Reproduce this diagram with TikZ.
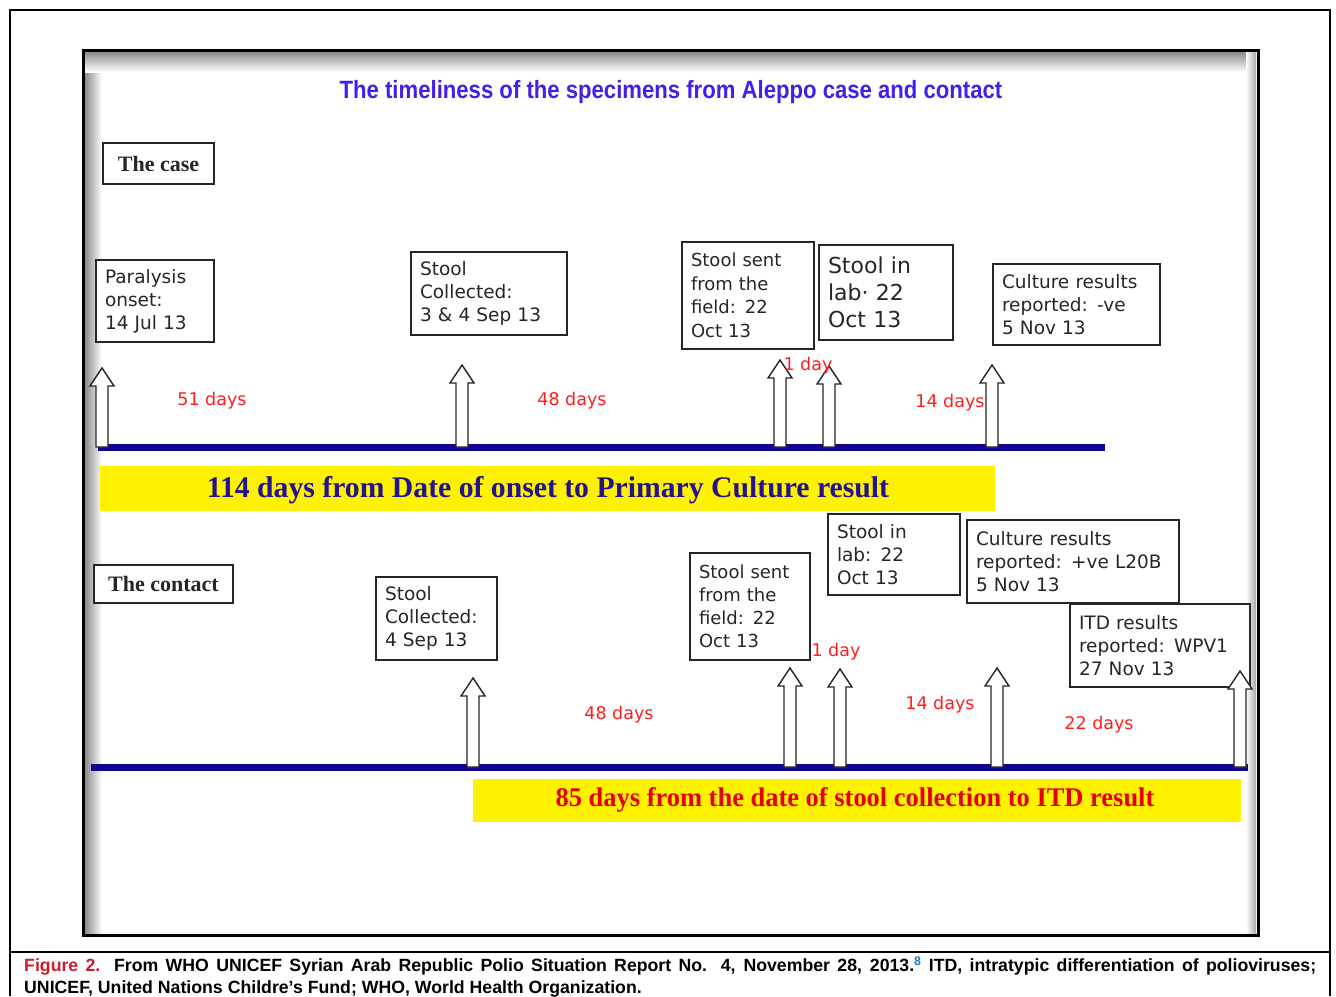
\documentclass[tikz,border=0pt]{standalone}
\usepackage{fontspec}
\usepackage{graphicx}
\setmainfont{Liberation Serif}
\newfontfamily\sansf{Liberation Sans}
\newfontfamily\boxf{DejaVu Sans}
\definecolor{lineblue}{RGB}{18,6,145}
\definecolor{titleblue}{RGB}{70,30,235}
\definecolor{bannerblue}{RGB}{35,20,140}
\definecolor{dayred}{RGB}{255,30,30}
\definecolor{capred}{RGB}{200,30,50}
\definecolor{capblue}{RGB}{30,120,200}
\tikzset{
  evbox/.style={draw=black!85, line width=1.6pt, fill=white, align=left, inner xsep=9pt, inner ysep=6pt,
    font=\boxf\fontsize{18.5}{23}\selectfont, text=black!85},
  labbox/.style={draw=black!85, line width=1.6pt, fill=white, inner sep=4pt,
    font=\bfseries\fontsize{22}{24}\selectfont, text=black!85},
  daylbl/.style={text=dayred, font=\boxf\fontsize{17.5}{20}\selectfont, inner sep=0pt},
  timeline/.style={draw=lineblue, line width=7pt},
  blockarr/.style={draw=black!85, fill=white, line width=1.4pt, line join=miter},
  banner/.style={fill=yellow, draw=none}
}
\newcommand\blockup[3]{%
  \draw[blockarr] (#1-6,#2) -- (#1-6,#3+18) -- (#1-12,#3+18) -- (#1,#3) -- (#1+12,#3+18) -- (#1+6,#3+18) -- (#1+6,#2) -- cycle;}
\begin{document}
\begin{tikzpicture}[x=1pt,y=-1pt]
\useasboundingbox (0,0) rectangle (1336,996);
\fill[white] (0,0) rectangle (1336,996);
% outer frame
\draw[black, line width=1.2pt] (10,996) -- (10,10) -- (1330,10) -- (1330,996);
\draw[black, line width=1.2pt] (10,952) -- (1330,952);
% inner frame with shadows
\shade[left color=black!45, right color=white] (85,52) rectangle (102,933);
\shade[top color=black!45, bottom color=white] (85,52) rectangle (1256,72);
\shade[left color=white, right color=black!35] (1246,52) rectangle (1256,933);
\draw[black, line width=3pt] (83,50) rectangle (1258,935);
% title
\node (title) at (671,92) {\sansf\bfseries\color{titleblue}\scalebox{0.885}[1]{\fontsize{25}{28}\selectfont The timeliness of the specimens from Aleppo case and contact}};
% ---------------- case ----------------
\node[labbox, minimum width=111, minimum height=41] (case) at (158.5,163.5) {The case};
\node[evbox, minimum width=118, minimum height=82, text width=100] (c1) at (155,301) {Paralysis\\onset:\\14 Jul 13};
\node[evbox, minimum width=156, minimum height=83, text width=138] (c2) at (489,293.5) {Stool\\Collected:\\3 \& 4 Sep 13};
\node[evbox, minimum width=132, minimum height=107, text width=114, inner ysep=4pt, font=\boxf\fontsize{18}{23.5}\selectfont] (c3) at (748,295.5) {Stool sent\\from the\\field: 22\\Oct 13};
\node[evbox, minimum width=134, minimum height=95, text width=116, font=\boxf\fontsize{22}{27}\selectfont] (c4) at (886,292.5) {Stool in\\lab· 22\\Oct 13};
\node[evbox, minimum width=167, minimum height=81, text width=149] (c5) at (1076.5,304.5) {Culture results\\reported: -ve\\5 Nov 13};
\coordinate (cl0) at (98,447);
\coordinate (cl1) at (1105,447);
\draw[timeline] (cl0) -- (cl1);
\blockup{102}{447}{368}
\blockup{462}{447}{365}
\blockup{780}{447}{360}
\blockup{829}{447}{366}
\blockup{992}{447}{365}
\node[daylbl] (d1) at (212,401) {51 days};
\node[daylbl] (d2) at (572,401) {48 days};
\node[daylbl] (d3) at (808,366) {1 day};
\node[daylbl] (d4) at (950,403) {14 days};
\node[banner, minimum width=895, minimum height=45] (b1) at (547.5,488.5) {};
\node[text=bannerblue, font=\bfseries\fontsize{30}{32}\selectfont] (b1t) at (548,490) {\scalebox{0.99}[1]{114 days from Date of onset to Primary Culture result}};
% ---------------- contact ----------------
\node[labbox, minimum width=139, minimum height=38] (contact) at (163.5,584) {The contact};
\node[evbox, minimum width=121, minimum height=83, text width=103] (k1) at (436.5,618.5) {Stool\\Collected:\\4 Sep 13};
\node[evbox, minimum width=120, minimum height=107, text width=102, inner ysep=4pt, font=\boxf\fontsize{18}{23}\selectfont] (k2) at (750,606.5) {Stool sent\\from the\\field: 22\\Oct 13};
\node[evbox, minimum width=132, minimum height=81, text width=114] (k3) at (894,554.5) {Stool in\\lab: 22\\Oct 13};
\node[evbox, minimum width=212, minimum height=83, text width=194] (k4) at (1073,561.5) {Culture results\\reported: +ve L20B\\5 Nov 13};
\node[evbox, minimum width=180, minimum height=83, text width=162] (k5) at (1160,645.5) {ITD results\\reported: WPV1\\27 Nov 13};
\coordinate (kl0) at (91,767);
\coordinate (kl1) at (1248,767);
\draw[timeline] (kl0) -- (kl1);
\blockup{473}{767}{678}
\blockup{790}{767}{668}
\blockup{840}{767}{669}
\blockup{997}{767}{668}
\blockup{1240}{767}{671}
\node[daylbl] (e1) at (619,715) {48 days};
\node[daylbl] (e2) at (836,652) {1 day};
\node[daylbl] (e3) at (940,705) {14 days};
\node[daylbl] (e4) at (1099,725) {22 days};
\node[banner, minimum width=768, minimum height=43] (b2) at (857,800.5) {};
\node[text=red!90!black, font=\bfseries\fontsize{27}{29}\selectfont] (b2t) at (855,800) {\scalebox{0.98}[1]{85 days from the date of stool collection to ITD result}};
% ---------------- caption ----------------
\node[anchor=west, inner sep=0pt, font=\sansf\bfseries\fontsize{17.7}{19}\selectfont] (cap1) at (24,966) {\makebox[1292pt][s]{\textcolor{capred}{Figure 2.} From WHO UNICEF Syrian Arab Republic Polio Situation Report No. 4, November 28, 2013.\textsuperscript{\textcolor{capblue}{8}} ITD, intratypic differentiation of polioviruses;}};
\node[anchor=west, inner sep=0pt, font=\sansf\bfseries\fontsize{17.7}{19}\selectfont] (cap2) at (24,989) {UNICEF, United Nations Childre’s Fund; WHO, World Health Organization.};
\end{tikzpicture}
\end{document}
